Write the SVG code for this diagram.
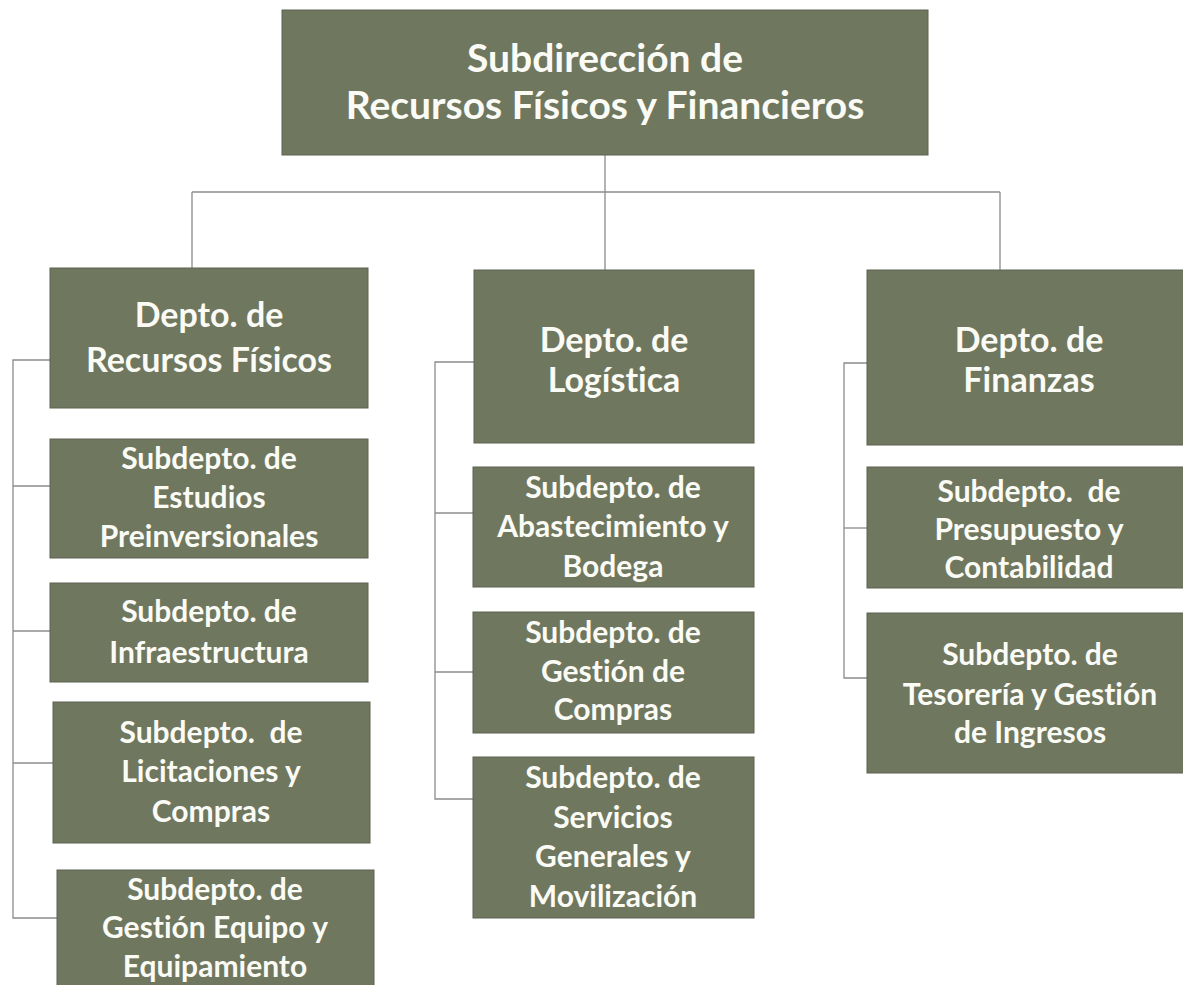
<svg xmlns="http://www.w3.org/2000/svg" width="1183" height="985" viewBox="0 0 1183 985">
<style>
.box{fill:#70775f;stroke:#5c6250;stroke-width:1}
.t{font-family:Lato,"Liberation Sans",sans-serif;font-weight:700;fill:#fbfbf6;text-anchor:middle;white-space:pre;font-variant-ligatures:none}
.t1{font-size:39px}
.t2{font-size:34px}
.t3{font-size:30px}
.conn{fill:none;stroke:#8c8c8c;stroke-width:1.3}
</style>
<rect width="1183" height="985" fill="#ffffff"/>
<g id="connectors" class="conn">
<path d="M605 155 V270"/>
<path d="M192 192 H1000"/>
<path d="M192 192 V268"/>
<path d="M1000 192 V270"/>
<path d="M50 360 H13 V918 H57"/>
<path d="M13 486 H50"/>
<path d="M13 631 H50"/>
<path d="M13 763 H53"/>
<path d="M474 362 H435 V799 H473"/>
<path d="M435 513 H473"/>
<path d="M435 672 H473"/>
<path d="M867 363 H844 V678 H867"/>
<path d="M844 528 H867"/>
</g>
<g id="subdireccion">
<rect class="box" x="282" y="10" width="646" height="145"/>
<text class="t t1" x="605" y="72">Subdirección de</text>
<text class="t t1" x="605" y="119">Recursos Físicos y Financieros</text>
</g>
<g id="depto-recursos-fisicos">
<rect class="box" x="50" y="268" width="318" height="140"/>
<text class="t t2" x="209" y="327">Depto. de</text>
<text class="t t2" x="209" y="372">Recursos Físicos</text>
</g>
<g id="depto-logistica">
<rect class="box" x="474" y="270" width="280" height="173"/>
<text class="t t2" x="614" y="352">Depto. de</text>
<text class="t t2" x="614" y="392">Logística</text>
</g>
<g id="depto-finanzas">
<rect class="box" x="867" y="270" width="317" height="175"/>
<text class="t t2" x="1029" y="352">Depto. de</text>
<text class="t t2" x="1029" y="392">Finanzas</text>
</g>
<g id="sub-estudios">
<rect class="box" x="50" y="439" width="318" height="119"/>
<text class="t t3" x="209" y="469">Subdepto. de</text>
<text class="t t3" x="209" y="508">Estudios</text>
<text class="t t3" x="209" y="547">Preinversionales</text>
</g>
<g id="sub-infraestructura">
<rect class="box" x="50" y="583" width="318" height="99"/>
<text class="t t3" x="209" y="622">Subdepto. de</text>
<text class="t t3" x="209" y="663">Infraestructura</text>
</g>
<g id="sub-licitaciones">
<rect class="box" x="53" y="702" width="317" height="141"/>
<text class="t t3" x="211" y="743">Subdepto.  de</text>
<text class="t t3" x="211" y="782">Licitaciones y</text>
<text class="t t3" x="211" y="822">Compras</text>
</g>
<g id="sub-gestion-equipo">
<rect class="box" x="57" y="870" width="317" height="120"/>
<text class="t t3" x="215" y="900">Subdepto. de</text>
<text class="t t3" x="215" y="938">Gestión Equipo y</text>
<text class="t t3" x="215" y="977">Equipamiento</text>
</g>
<g id="sub-abastecimiento">
<rect class="box" x="473" y="467" width="281" height="120"/>
<text class="t t3" x="613" y="498">Subdepto. de</text>
<text class="t t3" x="613" y="537">Abastecimiento y</text>
<text class="t t3" x="613" y="577">Bodega</text>
</g>
<g id="sub-gestion-compras">
<rect class="box" x="473" y="612" width="281" height="121"/>
<text class="t t3" x="613" y="643">Subdepto. de</text>
<text class="t t3" x="613" y="682">Gestión de</text>
<text class="t t3" x="613" y="720">Compras</text>
</g>
<g id="sub-servicios">
<rect class="box" x="473" y="757" width="281" height="161"/>
<text class="t t3" x="613" y="788">Subdepto. de</text>
<text class="t t3" x="613" y="828">Servicios</text>
<text class="t t3" x="613" y="867">Generales y</text>
<text class="t t3" x="613" y="907">Movilización</text>
</g>
<g id="sub-presupuesto">
<rect class="box" x="867" y="467" width="317" height="121"/>
<text class="t t3" x="1029" y="502">Subdepto.  de</text>
<text class="t t3" x="1029" y="540">Presupuesto y</text>
<text class="t t3" x="1029" y="578">Contabilidad</text>
</g>
<g id="sub-tesoreria">
<rect class="box" x="867" y="613" width="317" height="160"/>
<text class="t t3" x="1030" y="665">Subdepto. de</text>
<text class="t t3" x="1030" y="705">Tesorería y Gestión</text>
<text class="t t3" x="1030" y="743">de Ingresos</text>
</g>
</svg>
